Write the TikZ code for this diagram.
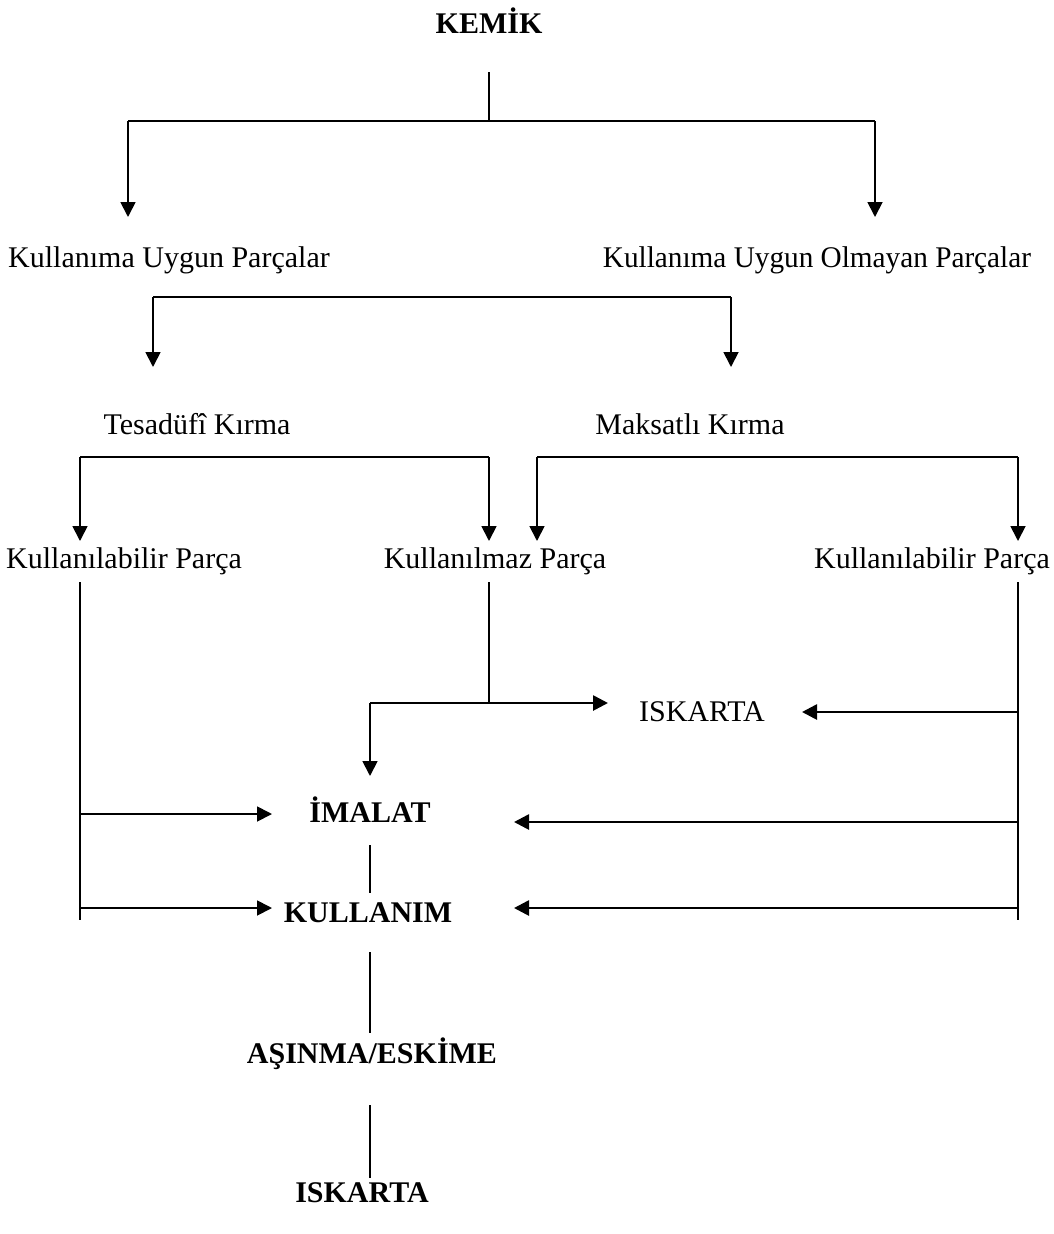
\documentclass[tikz,border=0pt]{standalone}
\usepackage{fontspec}
\setmainfont{Liberation Serif}
\usetikzlibrary{arrows.meta}
\begin{document}
\begin{tikzpicture}[x=1pt,y=-1pt,
  lbl/.style={anchor=base,inner sep=0pt,font=\fontsize{30}{36}\selectfont},
  blbl/.style={anchor=base,inner sep=0pt,font=\fontsize{30}{36}\selectfont\bfseries},
  vline/.style={line width=1.8pt},
  hline/.style={line width=2.7pt},
  tip/.style={-{Triangle[length=15pt,width=15pt]}},
]
\useasboundingbox[fill=white] (0,0) rectangle (1053,1234);

% text nodes
\node[blbl] (kemik) at (489,33) {KEMİK};
\node[lbl] (kup) at (169,267) {Kullanıma Uygun Parçalar};
\node[lbl,xscale=0.975] (kuop) at (817,267) {Kullanıma Uygun Olmayan Parçalar};
\node[lbl] (tes) at (197,434) {Tesadüfî Kırma};
\node[lbl] (mak) at (690,434) {Maksatlı Kırma};
\node[lbl] (kp1) at (124,568) {Kullanılabilir Parça};
\node[lbl] (kmz) at (495,568) {Kullanılmaz Parça};
\node[lbl] (kp2) at (932,568) {Kullanılabilir Parça};
\node[lbl] (isk1) at (702,721) {ISKARTA};
\node[blbl] (imalat) at (370,822) {İMALAT};
\node[blbl] (kullanim) at (368,922) {KULLANIM};
\node[blbl] (asinma) at (372,1063) {AŞINMA/ESKİME};
\node[blbl] (isk2) at (362,1202) {ISKARTA};

% junction coordinates
\coordinate (k0) at (489,72);
\coordinate (k1) at (489,121);
\coordinate (b1l) at (128,121);
\coordinate (b1r) at (875,121);
\coordinate (t1l) at (128,217);
\coordinate (t1r) at (875,217);

\coordinate (b2l) at (153,297);
\coordinate (b2r) at (731,297);
\coordinate (t2l) at (153,367);
\coordinate (t2r) at (731,367);

\coordinate (b3l) at (80,457);
\coordinate (b3m) at (489,457);
\coordinate (t3l) at (80,541);
\coordinate (t3m) at (489,541);
\coordinate (b4l) at (537,457);
\coordinate (b4r) at (1018,457);
\coordinate (t4l) at (537,541);
\coordinate (t4r) at (1018,541);

\coordinate (lv0) at (80,582);
\coordinate (lv1) at (80,920);
\coordinate (rv0) at (1018,582);
\coordinate (rv1) at (1018,920);
\coordinate (mv0) at (489,582);
\coordinate (mv1) at (489,703);
\coordinate (mh0) at (370,703);
\coordinate (mh1) at (608,703);
\coordinate (md1) at (370,776);

\coordinate (ri0) at (1018,712);
\coordinate (ri1) at (802,712);
\coordinate (la0) at (80,814);
\coordinate (la1) at (272,814);
\coordinate (lb0) at (80,908);
\coordinate (lb1) at (272,908);
\coordinate (ra0) at (1018,822);
\coordinate (ra1) at (514,822);
\coordinate (rb0) at (1018,908);
\coordinate (rb1) at (514,908);

\coordinate (c1a) at (370,845);
\coordinate (c1b) at (370,893);
\coordinate (c2a) at (370,952);
\coordinate (c2b) at (370,1033);
\coordinate (c3a) at (370,1105);
\coordinate (c3b) at (370,1178);

% KEMIK split
\draw[vline] (k0) -- (k1);
\draw[hline] (b1l) -- (b1r);
\draw[vline,tip] (b1l) -- (t1l);
\draw[vline,tip] (b1r) -- (t1r);

% Kullanima Uygun Parcalar split
\draw[hline] (b2l) -- (b2r);
\draw[vline,tip] (b2l) -- (t2l);
\draw[vline,tip] (b2r) -- (t2r);

% Tesadufi Kirma split
\draw[hline] (b3l) -- (b3m);
\draw[vline,tip] (b3l) -- (t3l);
\draw[vline,tip] (b3m) -- (t3m);

% Maksatli Kirma split
\draw[hline] (b4l) -- (b4r);
\draw[vline,tip] (b4l) -- (t4l);
\draw[vline,tip] (b4r) -- (t4r);

% verticals from parts
\draw[vline] (lv0) -- (lv1);
\draw[vline] (rv0) -- (rv1);
\draw[vline] (mv0) -- (mv1);
\draw[hline,tip] (mh0) -- (mh1);
\draw[vline,tip] (mh0) -- (md1);

% horizontal arrows
\draw[hline,tip] (ri0) -- (ri1);
\draw[vline,tip] (la0) -- (la1);
\draw[vline,tip] (lb0) -- (lb1);
\draw[hline,tip] (ra0) -- (ra1);
\draw[hline,tip] (rb0) -- (rb1);

% chain
\draw[vline] (c1a) -- (c1b);
\draw[vline] (c2a) -- (c2b);
\draw[vline] (c3a) -- (c3b);
\end{tikzpicture}
\end{document}
